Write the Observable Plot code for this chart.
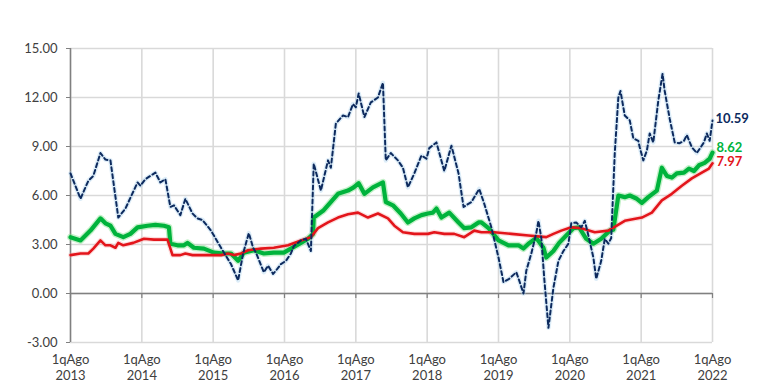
<!DOCTYPE html>
<html><head><meta charset="utf-8">
<script src="https://cdn.jsdelivr.net/npm/d3@7"></script>
<script src="https://cdn.jsdelivr.net/npm/@observablehq/plot@0.6"></script>
<style>body{margin:0;background:#fff;}</style>
</head><body><div id="chart"></div>
<script>
// Tick labels
const years = [2013, 2014, 2015, 2016, 2017, 2018, 2019, 2020, 2021, 2022];
const xLabelTop = "1qAgo";
const yTicks = [-3, 0, 3, 6, 9, 12, 15];

// Series: [decimal year, value]
const noSubyacente = [
  [2013.00,7.35],[2013.14,5.8],[2013.25,6.9],[2013.32,7.2],[2013.42,8.6],[2013.49,8.2],[2013.56,8.15],[2013.67,4.65],
  [2013.77,5.2],[2013.94,6.8],[2013.98,6.6],[2014.05,7.0],[2014.19,7.4],[2014.26,6.8],[2014.33,7.0],[2014.40,5.3],
  [2014.45,5.4],[2014.54,4.8],[2014.61,5.8],[2014.71,4.9],[2014.78,4.6],[2014.85,4.5],[2014.97,3.85],[2015.11,2.8],
  [2015.25,1.8],[2015.35,0.8],[2015.42,2.45],[2015.50,3.7],[2015.56,2.8],[2015.60,2.5],[2015.71,1.3],[2015.77,1.7],
  [2015.84,1.2],[2015.88,1.4],[2015.95,1.8],[2016.02,2.0],[2016.09,2.45],[2016.13,2.9],[2016.23,3.25],[2016.30,3.35],
  [2016.37,2.6],[2016.41,7.95],[2016.51,6.3],[2016.61,8.15],[2016.65,7.7],[2016.72,10.4],[2016.82,10.9],[2016.89,10.8],
  [2016.96,11.6],[2017.00,11.4],[2017.04,12.25],[2017.12,10.8],[2017.21,11.7],[2017.31,12.0],[2017.38,12.9],[2017.42,8.15],
  [2017.49,8.6],[2017.59,8.15],[2017.66,7.7],[2017.73,6.5],[2017.82,7.35],[2017.92,8.45],[2017.99,8.25],[2018.03,8.9],
  [2018.13,9.25],[2018.24,7.5],[2018.34,9.05],[2018.44,7.35],[2018.51,5.3],[2018.62,5.6],[2018.73,6.4],[2018.80,5.5],
  [2018.90,4.05],[2019.00,2.2],[2019.07,0.7],[2019.15,0.9],[2019.25,1.3],[2019.29,0.8],[2019.35,0.0],[2019.39,1.4],
  [2019.46,2.45],[2019.53,3.7],[2019.56,4.45],[2019.60,3.4],[2019.64,1.0],[2019.70,-2.1],[2019.77,0.35],[2019.84,2.0],
  [2019.91,2.6],[2019.98,3.05],[2020.02,4.3],[2020.09,4.35],[2020.16,4.05],[2020.21,4.45],[2020.26,3.55],[2020.33,2.2],
  [2020.37,0.9],[2020.44,2.0],[2020.49,3.35],[2020.54,3.05],[2020.58,3.4],[2020.63,8.6],[2020.68,12.0],[2020.71,12.4],
  [2020.77,10.9],[2020.84,10.6],[2020.89,9.5],[2020.96,9.35],[2020.98,8.95],[2021.03,8.15],[2021.08,8.75],[2021.12,9.8],
  [2021.17,9.25],[2021.24,11.8],[2021.30,13.45],[2021.33,12.4],[2021.40,10.7],[2021.47,9.25],[2021.54,9.2],[2021.60,9.35],
  [2021.64,9.7],[2021.71,8.95],[2021.78,8.6],[2021.88,9.25],[2021.92,9.8],[2021.96,9.35],[2022.00,10.59]
];
const general = [
  [2013.00,3.45],[2013.14,3.25],[2013.28,3.85],[2013.42,4.6],[2013.49,4.3],[2013.56,4.15],[2013.63,3.65],[2013.74,3.45],
  [2013.84,3.65],[2013.94,4.05],[2014.08,4.15],[2014.19,4.2],[2014.31,4.15],[2014.38,4.05],[2014.40,3.05],[2014.50,2.95],
  [2014.59,2.95],[2014.64,3.1],[2014.73,2.8],[2014.87,2.75],[2015.01,2.5],[2015.15,2.45],[2015.25,2.45],[2015.35,2.0],
  [2015.43,2.5],[2015.57,2.65],[2015.71,2.45],[2015.85,2.5],[2015.99,2.5],[2016.09,2.75],[2016.23,3.1],[2016.33,3.35],
  [2016.40,3.65],[2016.41,4.65],[2016.55,5.1],[2016.75,6.1],[2016.89,6.3],[2016.97,6.5],[2017.04,6.75],[2017.12,6.1],
  [2017.24,6.5],[2017.38,6.8],[2017.42,5.6],[2017.52,5.4],[2017.63,4.9],[2017.73,4.35],[2017.82,4.6],[2017.92,4.8],
  [2018.01,4.9],[2018.08,4.95],[2018.13,5.2],[2018.20,4.65],[2018.31,4.95],[2018.44,4.35],[2018.52,4.0],[2018.62,4.05],
  [2018.72,4.35],[2018.76,4.35],[2018.86,4.0],[2019.00,3.25],[2019.14,2.95],[2019.28,2.95],[2019.35,2.75],[2019.42,3.05],
  [2019.53,3.4],[2019.63,2.8],[2019.67,2.2],[2019.77,2.6],[2019.85,3.1],[2019.95,3.55],[2020.05,4.0],[2020.13,4.05],
  [2020.23,3.35],[2020.33,3.05],[2020.44,3.35],[2020.56,3.85],[2020.61,3.9],[2020.68,6.0],[2020.77,5.9],[2020.84,6.0],
  [2020.94,5.8],[2021.01,5.55],[2021.10,5.9],[2021.22,6.3],[2021.29,7.7],[2021.36,7.2],[2021.43,7.1],[2021.50,7.35],
  [2021.60,7.4],[2021.67,7.65],[2021.74,7.5],[2021.81,7.85],[2021.89,8.0],[2021.96,8.25],[2022.00,8.62]
];
const subyacente = [
  [2013.00,2.35],[2013.14,2.45],[2013.25,2.45],[2013.32,2.75],[2013.42,3.25],[2013.49,2.95],[2013.56,2.95],[2013.63,2.8],
  [2013.67,3.1],[2013.74,2.95],[2013.88,3.1],[2014.03,3.35],[2014.17,3.3],[2014.36,3.3],[2014.43,2.35],[2014.54,2.35],
  [2014.61,2.45],[2014.71,2.35],[2014.97,2.35],[2015.11,2.35],[2015.21,2.45],[2015.29,2.35],[2015.39,2.45],[2015.49,2.65],
  [2015.67,2.75],[2015.85,2.8],[2016.05,2.95],[2016.23,3.25],[2016.37,3.45],[2016.47,4.0],[2016.61,4.35],[2016.75,4.65],
  [2016.89,4.85],[2017.03,4.95],[2017.17,4.65],[2017.31,4.9],[2017.45,4.6],[2017.54,4.15],[2017.66,3.75],[2017.82,3.65],
  [2018.01,3.65],[2018.10,3.75],[2018.24,3.65],[2018.38,3.65],[2018.52,3.45],[2018.66,3.85],[2018.76,3.75],[2018.94,3.75],
  [2019.18,3.65],[2019.42,3.55],[2019.67,3.45],[2019.77,3.65],[2019.88,3.85],[2020.02,4.05],[2020.16,4.0],[2020.35,3.75],
  [2020.54,3.85],[2020.77,4.45],[2021.01,4.65],[2021.15,4.95],[2021.29,5.7],[2021.43,6.1],[2021.57,6.6],[2021.71,7.05],
  [2021.85,7.4],[2021.95,7.65],[2022.00,7.97]
];

const colNavy = "#0d2a5e", colGreen = "#00b33c", colRed = "#e3151b";
const axisGray = "#808080", gridGray = "#d9d9d9";
const last = a => [a[a.length - 1]];

const chart = Plot.plot({
  width: 768, height: 388,
  marginLeft: 70, marginRight: 56, marginTop: 48, marginBottom: 46,
  style: {fontFamily: "Lato, 'Open Sans', sans-serif", fontSize: "13px", color: "#404040", background: "#fff", overflow: "visible"},
  x: {type: "linear", domain: [2013, 2022]},
  y: {type: "linear", domain: [-3, 15]},
  marks: [
    Plot.gridX(years, {stroke: gridGray, strokeOpacity: 1, strokeWidth: 1.6}),
    Plot.gridY(yTicks, {stroke: gridGray, strokeOpacity: 1, strokeWidth: 1.6}),
    Plot.ruleY([0], {stroke: axisGray, strokeWidth: 1.5}),
    Plot.ruleX(years, {x: d => d, y1: 0, y2: 0, insetBottom: -5, stroke: axisGray, strokeWidth: 1.2}),
    Plot.ruleX([2013], {y1: -3, y2: 15, stroke: axisGray, strokeWidth: 1.5}),
    Plot.axisY(yTicks, {tickFormat: d => d.toFixed(2), tickSize: 4, tickPadding: 9, stroke: axisGray, label: null}),
    Plot.axisX(years, {tickFormat: d => `${xLabelTop}\n${d}`, tickSize: 0, tickPadding: 10, lineHeight: 1.25, label: null}),
    // soft halos
    Plot.line(general, {x: d => d[0], y: d => d[1], stroke: "#7ee08a", strokeWidth: 7, strokeOpacity: 0.45}),
    Plot.line(subyacente, {x: d => d[0], y: d => d[1], stroke: "#f7a3a3", strokeWidth: 5, strokeOpacity: 0.35}),
    Plot.line(noSubyacente, {x: d => d[0], y: d => d[1], stroke: "#a9d3ee", strokeWidth: 4.5, strokeOpacity: 0.4}),
    // series
    Plot.line(general, {x: d => d[0], y: d => d[1], stroke: colGreen, strokeWidth: 4.2}),
    Plot.line(subyacente, {x: d => d[0], y: d => d[1], stroke: colRed, strokeWidth: 2.6}),
    Plot.line(noSubyacente, {x: d => d[0], y: d => d[1], stroke: colNavy, strokeWidth: 2, strokeDasharray: "4,3"}),
    // end labels
    Plot.text(last(noSubyacente), {x: d => d[0], y: d => d[1], text: d => d[1].toFixed(2), dx: 3, dy: -2, textAnchor: "start", fill: colNavy, fontWeight: "bold", fontSize: 13}),
    Plot.text(last(general), {x: d => d[0], y: d => d[1], text: d => d[1].toFixed(2), dx: 4, dy: -5, textAnchor: "start", fill: colGreen, fontWeight: "bold", fontSize: 13}),
    Plot.text(last(subyacente), {x: d => d[0], y: d => d[1], text: d => d[1].toFixed(2), dx: 4, dy: -1, textAnchor: "start", fill: colRed, fontWeight: "bold", fontSize: 13})
  ]
});
document.getElementById("chart").appendChild(chart);
</script>
</body></html>
